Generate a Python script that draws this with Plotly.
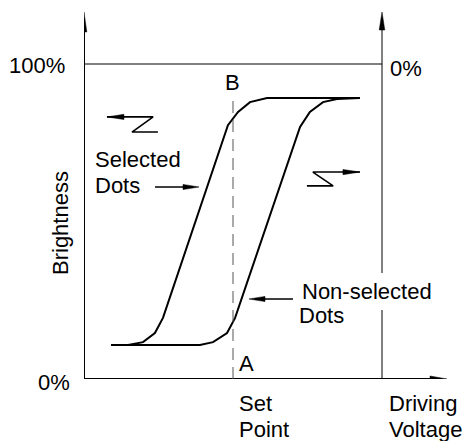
import plotly.graph_objects as go

# ---- data (voltage in arbitrary units: 0 .. 10 = full scale, brightness in %) ----
sel_x = [0.91, 1.48, 1.98, 2.38, 2.65, 4.83, 5.17, 5.57, 6.14, 9.26]
sel_y = [10.8, 10.8, 11.7, 14.6, 19.4, 80.6, 84.8, 87.9, 89.2, 89.2]
non_x = [0.91, 3.89, 4.33, 4.80, 5.07, 7.25, 7.58, 8.02, 8.49, 8.93, 9.26]
non_y = [10.8, 10.8, 11.7, 14.6, 19.4, 80.0, 84.8, 87.9, 88.9, 89.2, 89.2]
set_point = 5.0
full_scale_x = 10.0
full_scale_y = 100.0

# zig-zag direction glyphs
zig_left_x = [0.77, 2.32, 1.61, 2.48]
zig_left_y = [83.2, 83.2, 78.4, 78.4]
zig_right_x = [7.48, 8.36, 7.68, 9.26]
zig_right_y = [61.3, 61.3, 65.7, 65.7]

# ---- geometry ----
W, H = 467, 441
ML, MR, MT, MB = 84, 20, 12, 62
PW, PH = W - ML - MR, H - MT - MB
XPX, YPX = 29.8, 3.15          # pixels per data unit
XR, YR = PW / XPX, PH / YPX
dx, dy = 1 / XPX, 1 / YPX


def px2x(p):
    return (p - ML) / XPX


def px2y(p):
    return (H - MB - p) / YPX


def head(tx, ty, direction, length=18, half=3):
    if direction == "up":
        pts = [(tx, ty), (tx - half * dx, ty - length * dy), (tx + half * dx, ty - length * dy)]
    elif direction == "right":
        pts = [(tx, ty), (tx - length * dx, ty + half * dy), (tx - length * dx, ty - half * dy)]
    else:
        pts = [(tx, ty), (tx + length * dx, ty + half * dy), (tx + length * dx, ty - half * dy)]
    d = "M" + " L".join(f"{x:.4f},{y:.4f}" for x, y in pts) + " Z"
    return dict(type="path", path=d, xref="x", yref="y", fillcolor="black",
                line=dict(color="black", width=0.5), layer="above")


def seg(x0, y0, x1, y1, width=1, color="black", dash="solid"):
    return dict(type="line", x0=x0, y0=y0, x1=x1, y1=y1, xref="x", yref="y",
                line=dict(color=color, width=width, dash=dash), layer="above")


fig = go.Figure()
fig.add_trace(go.Scatter(x=sel_x, y=sel_y, mode="lines",
                         line=dict(color="black", width=2), hoverinfo="skip"))
fig.add_trace(go.Scatter(x=non_x, y=non_y, mode="lines",
                         line=dict(color="black", width=2), hoverinfo="skip"))
fig.add_trace(go.Scatter(x=zig_left_x, y=zig_left_y, mode="lines",
                         line=dict(color="black", width=1.6), hoverinfo="skip"))
fig.add_trace(go.Scatter(x=zig_right_x, y=zig_right_y, mode="lines",
                         line=dict(color="black", width=1.6), hoverinfo="skip"))

shapes = [
    seg(0, 0, 0, YR - 6 * dy, width=2),
    head(0, YR, "up", 20, 2.8),
    seg(0, 0, XR - 6 * dx, 0, width=2),
    head(XR, 0, "right", 17, 3),
    seg(0, full_scale_y, full_scale_x, full_scale_y, width=1),
    seg(full_scale_x, 0, full_scale_x, YR - 6 * dy, width=1),
    head(full_scale_x, YR, "up", 18, 2.8),
    seg(set_point, 0, set_point, px2y(100), width=1, color="#555555", dash="12px,7px"),
    head(zig_left_x[0], zig_left_y[0], "left", 17, 2.6),
    head(zig_right_x[-1], zig_right_y[-1], "right", 17, 2.6),
    seg(px2x(155), px2y(187), px2x(193), px2y(187), width=1.6),
    head(px2x(199), px2y(187), "right", 16, 2.6),
    seg(px2x(293), px2y(299), px2x(255), px2y(299), width=1.6),
    head(px2x(249), px2y(299), "left", 16, 2.6),
]

FONT = dict(family="Liberation Sans, Arial, sans-serif", size=22, color="black")


def label(text, px, py, xanchor="left", bg=None, pad=1, angle=0):
    a = dict(text=text, x=(px - ML) / PW, y=(H - MB - py) / PH,
             xref="paper", yref="paper",
             showarrow=False, xanchor=xanchor, yanchor="middle", font=FONT,
             textangle=angle, borderpad=pad, borderwidth=0)
    if bg:
        a["bgcolor"] = bg
    return a


annotations = [
    label("100%", 66, 66, "right"),
    label("0%", 71, 382, "right"),
    label("0%", 389, 68, "left"),
    label("B", 232, 82, "center"),
    label("A", 246, 363, "center"),
    label("Set", 238, 403),
    label("Point", 238, 429),
    label("Driving", 388, 403),
    label("Voltage", 388, 429),
    label("Selected", 94, 159),
    label("Dots", 94, 185),
    label("Non-selected", 296, 291, bg="white", pad=6),
    label("Dots", 298, 315),
    label("Brightness", 61, 223, "center", angle=-90),
]

fig.update_layout(
    width=W, height=H,
    margin=dict(l=ML, r=MR, t=MT, b=MB),
    paper_bgcolor="white", plot_bgcolor="white",
    showlegend=False,
    xaxis=dict(range=[0, XR], visible=False, fixedrange=True),
    yaxis=dict(range=[0, YR], visible=False, fixedrange=True),
    shapes=shapes,
    annotations=annotations,
)

fig.write_html("out.html", config=dict(displayModeBar=False),
               post_script="document.body.style.margin='0';")
